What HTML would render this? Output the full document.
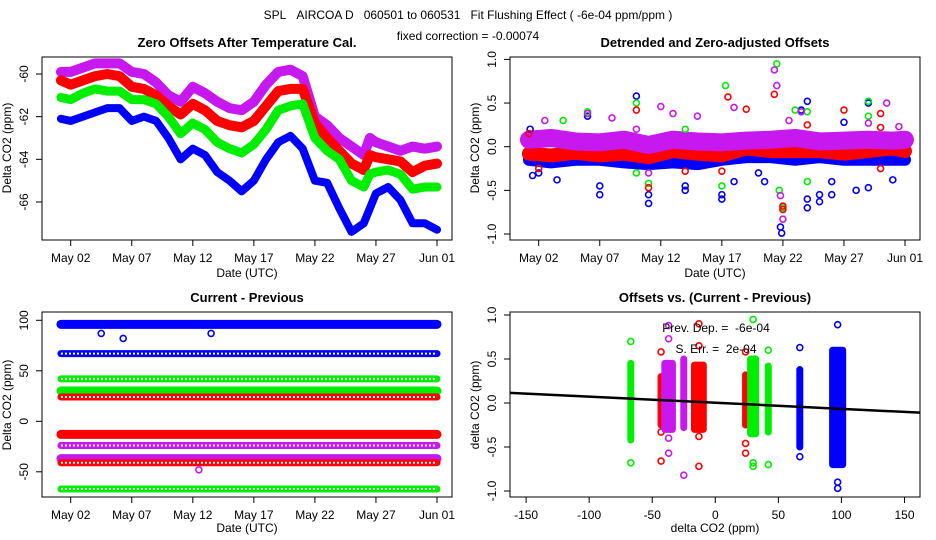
<!DOCTYPE html>
<html><head><meta charset="utf-8">
<style>
body{margin:0;background:#fff;}
svg{display:block;font-family:"Liberation Sans",sans-serif;}
.t{font-size:12px;fill:#000}
.b{font-size:13px;font-weight:bold;fill:#000}
</style></head>
<body>
<svg id="c" width="936" height="540" viewBox="0 0 936 540">
<rect width="936" height="540" fill="#fff"/>
<text x="468" y="19" text-anchor="middle" class="t" font-size="13">SPL&#160;&#160;&#160;AIRCOA D&#160;&#160;&#160;060501 to 060531&#160;&#160;&#160;Fit Flushing Effect ( -6e-04 ppm/ppm )</text>
<text x="468" y="40" text-anchor="middle" class="t">fixed correction = -0.00074</text>
</svg>
<script>
// ---- data: top-left zero offsets (day of May, ppm) ----
const tlDays=[1.2,2,3,4,5,6,7,8,9,10,11,12,13,14,15,16,17,18,19,20,21,22,23,24,25,26,26.5,27,28,29,30,31,32];
const tlBlue=[-62.1,-62.2,-62.0,-61.8,-61.6,-61.6,-62.2,-62.0,-62.2,-63.0,-64.0,-63.5,-63.8,-64.6,-65.0,-65.5,-65.0,-64.0,-63.2,-62.9,-63.5,-65.0,-65.1,-66.3,-67.4,-67.0,-66.3,-65.6,-65.3,-65.9,-67.0,-67.0,-67.3];
const tlRed=[-60.3,-60.5,-60.3,-60.1,-60.0,-60.1,-60.6,-60.7,-61.0,-61.5,-61.9,-61.4,-61.7,-62.2,-62.4,-62.5,-62.2,-61.5,-60.8,-60.7,-60.7,-62.3,-63.0,-63.6,-64.2,-64.5,-63.8,-63.9,-64.0,-64.1,-64.6,-64.3,-64.2];
const tlGreen=[-61.1,-61.2,-60.9,-60.7,-60.8,-60.8,-61.2,-61.2,-61.4,-62.0,-62.8,-62.3,-62.6,-63.2,-63.5,-63.7,-63.3,-62.6,-61.7,-61.5,-61.4,-63.0,-63.6,-64.0,-65.0,-65.3,-64.7,-64.6,-64.5,-64.7,-65.4,-65.3,-65.3];
const tlPurple=[-59.9,-59.9,-59.7,-59.5,-59.5,-59.5,-59.9,-60.0,-60.4,-61.0,-61.3,-60.6,-60.9,-61.3,-61.6,-61.7,-61.3,-60.5,-59.9,-59.8,-60.1,-62.0,-62.4,-63.0,-63.4,-63.8,-63.0,-63.2,-63.4,-63.6,-63.4,-63.5,-63.4];
const tlYTicks=[-60,-62,-64,-66];
const dateTicks=[2,7,12,17,22,27,32];
const dateLabels=["May 02","May 07","May 12","May 17","May 22","May 27","Jun 01"];
// ---- top-right detrended residual bands & spikes ----
const trDays=[1.2,3,5,7,9,11,13,15,17,19,21,23,25,27,29,31,32];
const trPurple=[0.08,0.1,0.06,0.05,0.08,0.02,0.08,0.06,0.05,0.07,0.08,0.1,0.06,0.07,0.08,0.07,0.08];
const trRed=[-0.08,-0.1,-0.07,-0.1,-0.08,-0.12,-0.05,-0.08,-0.1,-0.02,-0.05,-0.05,-0.05,-0.08,-0.05,-0.02,-0.05];
const trBlue=[-0.15,-0.18,-0.15,-0.15,-0.18,-0.2,-0.18,-0.2,-0.15,-0.12,-0.12,-0.15,-0.12,-0.15,-0.15,-0.15,-0.15];
const spBlue=[[1.5,-0.33],[2,-0.3],[3.5,-0.38],[7,-0.45],[7,-0.55],[10,0.58],[11,-0.65],[11,-0.55],[14,-0.5],[14,-0.45],[17,-0.6],[17,-0.55],[18,-0.4],[20.5,-0.4],[21.8,-0.92],[21.9,-0.99],[23.5,0.42],[24,-0.6],[24,-0.7],[24,0.52],[25,-0.55],[25,-0.63],[26,-0.55],[26,-0.4],[27,0.28],[28,-0.5],[29,0.5],[29,-0.47],[31,-0.38],[20,-0.3],[6,0.35],[1.3,0.2]];
const spGreen=[[4,0.3],[6,0.4],[10,0.5],[11,-0.42],[14,0.2],[17,-0.45],[17.3,0.7],[21.5,0.95],[21.7,-0.5],[22,-0.7],[23,0.42],[24,0.4],[24,-0.4],[29,0.52],[29,0.35],[10,-0.3]];
const spRed=[[10,0.42],[11,-0.47],[14,-0.28],[17,-0.28],[17.5,0.57],[19,0.43],[21.3,0.6],[22,-0.68],[22,-0.72],[24,0.25],[27,0.42],[30,0.38],[30,0.22],[30,-0.25],[2,-0.25],[1.2,0.15]];
const spPurple=[[2.5,0.3],[6,0.38],[8,0.33],[10,0.2],[12,0.46],[13,0.38],[15,0.35],[18,0.45],[21.3,0.88],[21.5,0.7],[21.8,-0.56],[22,-0.83],[29,0.27],[30.5,0.5],[31.5,0.23],[11,-0.3],[22.5,0.3],[23.5,0.4]];
const resTicks=[1.0,0.5,0.0,-0.5,-1.0];
const resLabels=["1.0","0.5","0.0","-0.5","-1.0"];
// ---- bottom-left current - previous ----
const blLevels=[96,67,42,30,24,-13,-24,-37,-41,-67];
const blColors=["#0000ff","#0000ff","#00ee00","#00ee00","#ff0000","#ff0000","#c818f0","#c818f0","#ff0000","#00ee00"];
const blNoisy=[1,0,0,1,0,1,0,1,0,0];
const blYTicks=[100,50,0,-50];
// ---- bottom-right clusters ----
const clX=[-67,-43,-37,-25,-13,24,30,42,67,97];
const clMin=[-0.42,-0.25,-0.3,-0.28,-0.3,-0.25,-0.35,-0.33,-0.5,-0.7];
const clMax=[0.45,0.3,0.45,0.5,0.43,0.32,0.5,0.42,0.38,0.6];
const clWidth=[0,0,6,0,7,0,4,0,0,8];
const clColor=["#00ee00","#ff0000","#c818f0","#c818f0","#ff0000","#ff0000","#00ee00","#00ee00","#0000ff","#0000ff"];
const clOut=[[0.7,-0.68],[0.58,-0.33,-0.66],[0.73,0.88,-0.4,-0.57],[-0.82],[0.9,0.65,-0.38,-0.72],[0.58,-0.46,-0.57],[0.95,-0.68,-0.72],[0.6,-0.7],[0.63,-0.61],[0.89,-0.9,-0.97]];
const fitIntercept=0.003, fitSlope=-0.0007;
const brXTicks=[-150,-100,-50,0,50,100,150];

const svg=document.getElementById('c');
const NS="http://www.w3.org/2000/svg";
function mk(tag,at,parent){const e=document.createElementNS(NS,tag);for(const k in at)e.setAttribute(k,at[k]);(parent||svg).appendChild(e);return e;}

function panel(name,x0,x1,y0,y1,title,titleY){
  const g=mk('g',{});
  
  
  const t=mk('text',{x:(x0+x1)/2,y:titleY,'text-anchor':'middle',class:'b'},g);t.textContent=title;
  
  
  return g;
}
function box(g,x0,x1,y0,y1,name){const r=mk('rect',{x:x0,y:y0,width:x1-x0,height:y1-y0,fill:'none',stroke:'#000','stroke-width':1},g);
  
  }
function yaxis(g,x0,ticks,labels,ys,name){
  ticks.forEach((v,i)=>{const y=ys(v);mk('line',{x1:x0,x2:x0-6,y1:y,y2:y,stroke:'#000'},g);
    const t=mk('text',{x:x0-14,y:y,'text-anchor':'middle',class:'t',transform:`rotate(-90 ${x0-14} ${y})`},g);t.textContent=labels[i];
    
    });
}
function xaxis(g,y0,ticks,labels,xs,name){
  mk('line',{x1:xs(ticks[0]),x2:xs(ticks[ticks.length-1]),y1:y0,y2:y0,stroke:'#000'},g);
  ticks.forEach((v,i)=>{const x=xs(v);mk('line',{x1:x,x2:x,y1:y0,y2:y0+6,stroke:'#000'},g);
    const t=mk('text',{x:x,y:y0+22,'text-anchor':'middle',class:'t'},g);t.textContent=labels[i];
    
    });
}
function label(g,x,y,txt,rot,name){const t=mk('text',{x:x,y:y,'text-anchor':'middle',class:'t','font-size':11,transform:rot?`rotate(-90 ${x} ${y})`:''},g);t.textContent=txt;
  
  }
function band(g,xs,ys,days,vals,color,w,name){
  const p=mk('polyline',{points:days.map((d,i)=>xs(d)+','+ys(vals[i])).join(' '),fill:'none',stroke:color,'stroke-width':w,'stroke-linejoin':'round','stroke-linecap':'round'},g);
  
  
  days.forEach((d,i)=>mk('circle',{cx:xs(d),cy:ys(vals[i]),r:3,fill:'none',stroke:color,'stroke-width':1.5},g));
}
function pt(g,x,y,color,name){const c=mk('circle',{cx:x,cy:y,r:3,fill:'none',stroke:color,'stroke-width':1.6},g);
  
  }

// ---------- top-left ----------
{const x0=42,x1=452,y0=57,y1=240;
 const xs=d=>70.7+(d-2)*12.21, ys=v=>74+(-60-v)*21.33;
 const g=panel('zero-offsets-panel',x0,x1,y0,y1,'Zero Offsets After Temperature Cal.',47);
 band(g,xs,ys,tlDays,tlPurple,'#c818f0',10,'series-purple');
 band(g,xs,ys,tlDays,tlRed,'#ff0000',10,'series-red');
 band(g,xs,ys,tlDays,tlGreen,'#00ee00',9,'series-green');
 band(g,xs,ys,tlDays,tlBlue,'#0000ff',8,'series-blue');
 box(g,x0,x1,y0,y1,'zero-offsets');
 yaxis(g,x0,tlYTicks,tlYTicks.map(String),ys,'zero-offsets');
 xaxis(g,y1,dateTicks,dateLabels,xs,'zero-offsets');
 label(g,11,148,'Delta CO2 (ppm)',true,'y-axis-title');
 label(g,247,277,'Date (UTC)',false,'x-axis-title');}

// ---------- top-right ----------
{const x0=510,x1=920,y0=57,y1=240;
 const xs=d=>538.7+(d-2)*12.21, ys=v=>146.7-v*87.3;
 const g=panel('detrended-offsets-panel',x0,x1,y0,y1,'Detrended and Zero-adjusted Offsets',47);
 band(g,xs,ys,trDays,trBlue,'#0000ff',12,'residual-blue');
 band(g,xs,ys,trDays,trRed,'#ff0000',14,'residual-red');
 band(g,xs,ys,trDays,trPurple,'#c818f0',18,'residual-purple');
 spBlue.forEach(p=>pt(g,xs(p[0]),ys(p[1]),'#0000ff','spike-blue'));
 spGreen.forEach(p=>pt(g,xs(p[0]),ys(p[1]),'#00ee00','spike-green'));
 spRed.forEach(p=>pt(g,xs(p[0]),ys(p[1]),'#ff0000','spike-red'));
 spPurple.forEach(p=>pt(g,xs(p[0]),ys(p[1]),'#c818f0','spike-purple'));
 box(g,x0,x1,y0,y1,'detrended');
 yaxis(g,x0,resTicks,resLabels,ys,'detrended');
 xaxis(g,y1,dateTicks,dateLabels,xs,'detrended');
 label(g,479,148,'Delta CO2 (ppm)',true,'y-axis-title');
 label(g,715,277,'Date (UTC)',false,'x-axis-title');}

// ---------- bottom-left ----------
{const x0=42,x1=452,y0=312,y1=497;
 const xs=d=>70.7+(d-2)*12.21, ys=v=>421.3-v*1.01;
 const g=panel('current-previous-panel',x0,x1,y0,y1,'Current - Previous',302);
 blLevels.forEach((v,i)=>{
   const y=ys(v);
   const l=mk('line',{x1:xs(1.2),x2:xs(32),y1:y,y2:y,stroke:blColors[i],'stroke-width':blNoisy[i]?9:7,'stroke-linecap':'round'},g);
   
   
   if(!blNoisy[i]) mk('line',{x1:xs(1.2),x2:xs(32),y1:y,y2:y,stroke:'#fff','stroke-width':2,'stroke-dasharray':'2 2'},g);
 });
 pt(g,xs(4.5),ys(87),'#0000ff','outlier');pt(g,xs(6.3),ys(82),'#0000ff','outlier');pt(g,xs(13.5),ys(87),'#0000ff','outlier');pt(g,xs(12.5),ys(-48),'#c818f0','outlier');
 box(g,x0,x1,y0,y1,'current-previous');
 yaxis(g,x0,blYTicks,blYTicks.map(String),ys,'current-previous');
 xaxis(g,y1,dateTicks,dateLabels,xs,'current-previous');
 label(g,11,405,'Delta CO2 (ppm)',true,'y-axis-title');
 label(g,247,532,'Date (UTC)',false,'x-axis-title');}

// ---------- bottom-right ----------
{const x0=510,x1=920,y0=312,y1=497;
 const xs=v=>715.3+v*1.2613, ys=v=>403-v*88;
 const g=panel('offsets-vs-diff-panel',x0,x1,y0,y1,'Offsets vs. (Current - Previous)',302);
 clX.forEach((cx,i)=>{
   const r=mk('rect',{x:xs(cx-clWidth[i]/2)-3,y:ys(clMax[i])-3,width:clWidth[i]*1.26+6,height:ys(clMin[i])-ys(clMax[i])+6,fill:clColor[i],stroke:clColor[i],rx:3},g);
   
   
   clOut[i].forEach(v=>pt(g,xs(cx),ys(v),clColor[i],'cluster-outlier'));
 });
 const fl=mk('line',{x1:x0,x2:x1,y1:ys(fitIntercept+fitSlope*(-161)),y2:ys(fitIntercept+fitSlope*161),stroke:'#000','stroke-width':2.5},g);
 
 
 const t1=mk('text',{x:716,y:332,'text-anchor':'middle',class:'t'},g);t1.textContent='Prev. Dep. =\u00a0\u00a0-6e-04';
 
 
 const t2=mk('text',{x:716,y:353,'text-anchor':'middle',class:'t'},g);t2.textContent='S. Err. =\u00a0\u00a02e-04';
 
 
 box(g,x0,x1,y0,y1,'offsets-vs-diff');
 yaxis(g,x0,resTicks,resLabels,ys,'offsets-vs-diff');
 xaxis(g,y1,brXTicks,brXTicks.map(String),xs,'offsets-vs-diff');
 label(g,479,405,'delta CO2 (ppm)',true,'y-axis-title');
 label(g,715,532,'delta CO2 (ppm)',false,'x-axis-title');}
</script>
</body></html>
